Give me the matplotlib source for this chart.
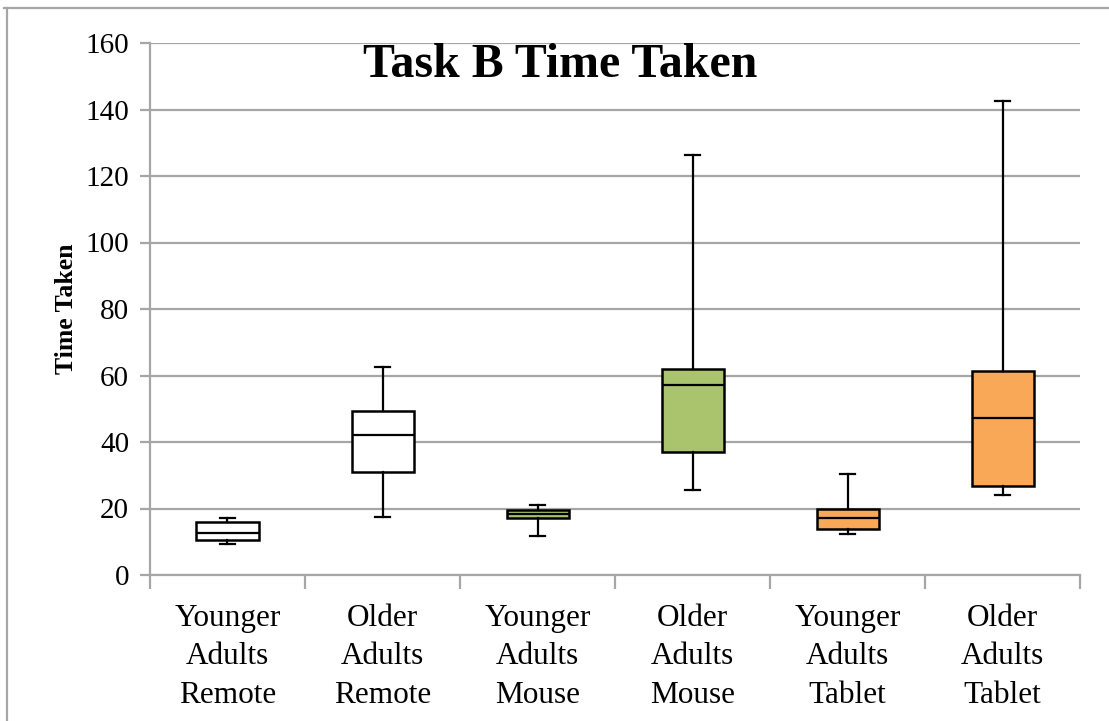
import matplotlib
matplotlib.use('Agg')
from matplotlib import pyplot as plt
from matplotlib.lines import Line2D

# Box plot summary values
categories = ['Younger\nAdults\nRemote', 'Older\nAdults\nRemote', 'Younger\nAdults\nMouse',
              'Older\nAdults\nMouse', 'Younger\nAdults\nTablet', 'Older\nAdults\nTablet']
whis_low = [9.2, 17.4, 11.8, 25.6, 12.3, 24.0]
q1 = [10.4, 31.0, 17.2, 37.0, 13.9, 26.8]
median = [12.7, 42.0, 18.2, 57.0, 17.0, 47.2]
q3 = [15.9, 49.2, 19.5, 62.0, 19.8, 61.4]
whis_high = [17.2, 62.6, 21.1, 126.3, 30.3, 142.6]
box_colors = ['#FFFFFF', '#FFFFFF', '#A9C46C', '#A9C46C', '#F9A857', '#F9A857']

plt.rcParams['font.family'] = ['Liberation Serif', 'DejaVu Serif']

fig = plt.figure(figsize=(11.09, 7.21), dpi=100)
ax = fig.add_axes([150 / 1109, 1 - 575 / 721, 930 / 1109, 532 / 721])

stats = []
for i in range(len(categories)):
    stats.append({'whislo': whis_low[i], 'q1': q1[i], 'med': median[i],
                  'q3': q3[i], 'whishi': whis_high[i], 'fliers': []})

positions = list(range(1, len(categories) + 1))
bp = ax.bxp(stats, positions=positions, widths=0.4, capwidths=0.1,
            patch_artist=True, showfliers=False,
            boxprops=dict(linewidth=1.8, edgecolor='black'),
            medianprops=dict(color='black', linewidth=1.6),
            whiskerprops=dict(color='black', linewidth=1.6),
            capprops=dict(color='black', linewidth=1.6))
for patch, c in zip(bp['boxes'], box_colors):
    patch.set_facecolor(c)
    patch.set_zorder(3)
for key in ['medians', 'whiskers', 'caps']:
    for ln in bp[key]:
        ln.set_zorder(4)

ax.set_xlim(0.5, len(categories) + 0.5)
ax.set_ylim(0, 160)
ax.set_yticks(range(0, 161, 20))
ax.yaxis.grid(True, color='#A6A6A6', linewidth=1.6)
ax.set_axisbelow(True)

ax.set_xticks(positions)
ax.set_xticklabels(categories, fontsize=22.5, linespacing=1.42)
ax.set_xticks([p + 0.5 for p in [0] + positions], minor=True)
ax.tick_params(axis='x', which='major', length=0, pad=21)
ax.tick_params(axis='x', which='minor', length=10, width=1.6, color='#A6A6A6')
ax.tick_params(axis='y', labelsize=21, length=7, width=1.6, color='#A6A6A6', pad=8)

for s in ['top', 'right']:
    ax.spines[s].set_visible(False)
for s in ['left', 'bottom']:
    ax.spines[s].set_color('#A6A6A6')
    ax.spines[s].set_linewidth(1.6)

ax.set_ylabel('Time Taken', fontsize=18.5, fontweight='bold', labelpad=5)
ax.text(0.441, 0.958, 'Task B Time Taken', transform=ax.transAxes,
        ha='center', va='center', fontsize=34.5, fontweight='bold')

# outer frame (top and left edges visible)
fig.add_artist(Line2D([4 / 1109, 1], [1 - 8 / 721, 1 - 8 / 721], color='#A6A6A6', linewidth=1.6))
fig.add_artist(Line2D([7 / 1109, 7 / 1109], [0, 1 - 8 / 721], color='#A6A6A6', linewidth=1.6))

fig.savefig('out.png', dpi=100)
